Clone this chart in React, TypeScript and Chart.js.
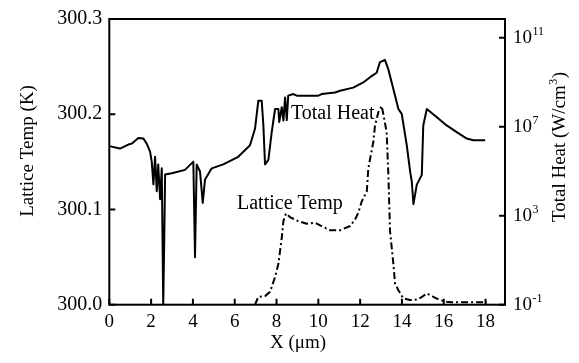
import React, { useEffect, useRef } from 'react';
import { Chart, registerables } from 'chart.js';

Chart.register(...registerables);

// Total Heat (W/cm^3), solid line, right log axis
const heatX = [0, 0.51, 0.91, 1.07, 1.39, 1.63, 1.79, 1.95, 2.03, 2.11, 2.19, 2.27, 2.34, 2.43, 2.51, 2.58, 2.63, 2.67, 2.99, 3.62, 4.02, 4.1, 4.18, 4.34, 4.47, 4.58, 4.9, 5.45, 6.17, 6.73, 6.97, 7.13, 7.29, 7.37, 7.45, 7.61, 7.77, 7.93, 8.09, 8.13, 8.25, 8.33, 8.41, 8.49, 8.56, 8.8, 8.97, 10.0, 10.16, 10.8, 11.04, 11.67, 12.15, 12.55, 12.79, 12.95, 13.19, 13.35, 13.51, 13.83, 13.99, 14.23, 14.39, 14.47, 14.55, 14.71, 14.95, 15.02, 15.19, 15.67, 16.14, 16.62, 17.1, 17.42, 17.98];
const heatY = [1.35e6, 1.05e6, 1.58e6, 1.74e6, 3.16e6, 2.95e6, 1.74e6, 7.6e5, 2.7e5, 2.57e4, 4.47e5, 1.26e4, 2.0e5, 5.5e3, 1.35e5, 0.1, 91, 7.1e4, 8.1e4, 1.15e5, 2.7e5, 13.5, 2.0e5, 9.8e4, 3.8e3, 4.27e4, 1.35e5, 2.04e5, 4.47e5, 1.48e6, 8.1e6, 1.48e8, 1.48e8, 1.2e7, 2.04e5, 3.24e5, 5.75e6, 6.3e7, 6.3e7, 1.62e7, 7.6e7, 1.9e7, 2.09e8, 2.0e7, 2.5e8, 2.95e8, 2.5e8, 2.5e8, 2.95e8, 3.47e8, 4.17e8, 5.75e8, 9.8e8, 1.9e9, 2.69e9, 8.1e9, 1.0e10, 3.8e9, 9.8e8, 6.3e7, 3.8e7, 1.48e6, 9.8e4, 3.47e4, 3.3e3, 2.5e4, 6.9e4, 1.15e7, 6.3e7, 2.69e7, 1.15e7, 5.75e6, 2.95e6, 2.5e6, 2.5e6];

// Lattice Temp (K), dash-dot line, left axis
const tempX = [6.97, 7.13, 7.45, 7.69, 7.93, 8.09, 8.25, 8.33, 8.45, 8.64, 9.04, 9.44, 9.84, 10.24, 10.56, 11.04, 11.52, 11.76, 11.91, 12.08, 12.32, 12.39, 12.63, 12.71, 12.87, 13.03, 13.11, 13.27, 13.35, 13.43, 13.59, 13.67, 13.83, 14.07, 14.39, 14.78, 15.19, 15.5, 15.82, 16.14, 16.38, 18.06];
const tempY = [300.0, 300.0083, 300.009, 300.0135, 300.029, 300.0429, 300.0705, 300.0878, 300.0958, 300.092, 300.0878, 300.085, 300.0861, 300.0816, 300.0782, 300.0782, 300.0826, 300.0896, 300.0964, 300.1086, 300.119, 300.143, 300.1708, 300.188, 300.202, 300.2088, 300.2001, 300.181, 300.1363, 300.0775, 300.0429, 300.0222, 300.0152, 300.0066, 300.0049, 300.0056, 300.0118, 300.0083, 300.0049, 300.0031, 300.0025, 300.0025];

const xTicks = [0, 2, 4, 6, 8, 10, 12, 14, 16, 18];
const tempTicks = [300.0, 300.1, 300.2, 300.3];
const heatTicks = [1e-1, 1e3, 1e7, 1e11];
const heatTickBase = ['10', '10', '10', '10'];
const heatTickExp = ['-1', '3', '7', '11'];

const xTitle = 'X (μm)';
const leftTitle = 'Lattice Temp (K)';
const rightTitleMain = 'Total Heat (W/cm';
const rightTitleSup = '3';
const rightTitleEnd = ')';
const heatLabel = 'Total Heat';
const tempLabel = 'Lattice Temp';

const FONT = '"Liberation Serif", "Times New Roman", serif';

export default function App() {
  const ref = useRef<HTMLCanvasElement | null>(null);

  useEffect(() => {
    const canvas = ref.current;
    if (!canvas) return;

    const overlay = {
      id: 'overlay',
      afterDraw(chart: any) {
        const ctx = chart.ctx as CanvasRenderingContext2D;
        const a = chart.chartArea;
        const sx = chart.scales.x;
        const sT = chart.scales.yT;
        const sH = chart.scales.yH;
        ctx.save();
        ctx.strokeStyle = '#000';
        ctx.fillStyle = '#000';
        ctx.lineWidth = 2;
        ctx.strokeRect(a.left, a.top, a.right - a.left, a.bottom - a.top);
        // inward ticks
        ctx.beginPath();
        xTicks.forEach((v) => {
          const p = sx.getPixelForValue(v);
          ctx.moveTo(p, a.bottom);
          ctx.lineTo(p, a.bottom - 6);
        });
        tempTicks.forEach((v) => {
          const p = sT.getPixelForValue(v);
          ctx.moveTo(a.left, p);
          ctx.lineTo(a.left + 6, p);
        });
        heatTicks.forEach((v) => {
          const p = sH.getPixelForValue(v);
          ctx.moveTo(a.right, p);
          ctx.lineTo(a.right - 6, p);
        });
        ctx.stroke();

        // right axis labels
        ctx.textBaseline = 'middle';
        ctx.textAlign = 'left';
        heatTicks.forEach((v, i) => {
          const p = sH.getPixelForValue(v);
          ctx.font = `19px ${FONT}`;
          const bx = a.right + 8;
          ctx.fillText(heatTickBase[i], bx, p);
          const w = ctx.measureText(heatTickBase[i]).width;
          ctx.font = `12px ${FONT}`;
          ctx.fillText(heatTickExp[i], bx + w + 0.5, p - 6);
        });

        // titles
        ctx.font = `19px ${FONT}`;
        ctx.textAlign = 'center';
        ctx.fillText(xTitle, 298, 343);

        ctx.save();
        ctx.translate(28, 151);
        ctx.rotate(-Math.PI / 2);
        ctx.fillText(leftTitle, 0, 0);
        ctx.restore();

        ctx.save();
        ctx.translate(560, 147);
        ctx.rotate(-Math.PI / 2);
        ctx.textAlign = 'left';
        ctx.font = `19px ${FONT}`;
        const w1 = ctx.measureText(rightTitleMain).width;
        const w3 = ctx.measureText(rightTitleEnd).width;
        ctx.font = `12px ${FONT}`;
        const w2 = ctx.measureText(rightTitleSup).width;
        const tot = w1 + w2 + w3 + 1;
        let xx = -tot / 2;
        ctx.font = `19px ${FONT}`;
        ctx.fillText(rightTitleMain, xx, 0);
        xx += w1 + 0.5;
        ctx.font = `12px ${FONT}`;
        ctx.fillText(rightTitleSup, xx, -6);
        xx += w2 + 0.5;
        ctx.font = `19px ${FONT}`;
        ctx.fillText(rightTitleEnd, xx, 0);
        ctx.restore();

        // in-plot labels
        ctx.font = `20px ${FONT}`;
        ctx.textAlign = 'left';
        ctx.textBaseline = 'alphabetic';
        ctx.fillText(heatLabel, sx.getPixelForValue(8.69), sT.getPixelForValue(300.195));
        ctx.fillText(tempLabel, sx.getPixelForValue(6.11), sT.getPixelForValue(300.101));
        ctx.restore();
      },
    };

    const chart = new Chart(canvas, {
      type: 'line',
      data: {
        datasets: [
          {
            label: heatLabel,
            data: heatX.map((x, i) => ({ x, y: heatY[i] })),
            yAxisID: 'yH',
            borderColor: '#000',
            borderWidth: 2,
            pointRadius: 0,
            tension: 0,
            fill: false,
            borderJoinStyle: 'round',
          },
          {
            label: tempLabel,
            data: tempX.map((x, i) => ({ x, y: tempY[i] })),
            yAxisID: 'yT',
            borderColor: '#000',
            borderWidth: 2,
            borderDash: [7, 3, 2, 3],
            pointRadius: 0,
            tension: 0,
            fill: false,
            borderJoinStyle: 'round',
          },
        ],
      },
      options: {
        responsive: false,
        animation: false,
        devicePixelRatio: 1,
        layout: { padding: { top: 15.5, left: 0, right: 0, bottom: 0 } },
        plugins: { legend: { display: false }, tooltip: { enabled: false } },
        scales: {
          x: {
            type: 'linear',
            min: 0,
            max: 18.93,
            grid: { display: false, drawTicks: false },
            border: { display: false },
            ticks: {
              color: '#000',
              font: { family: FONT, size: 19 },
              padding: 6,
              maxRotation: 0,
              autoSkip: false,
            },
            afterBuildTicks: (s: any) => {
              s.ticks = xTicks.map((v) => ({ value: v }));
            },
            afterFit: (s: any) => {
              s.height = 58.3;
            },
          },
          yT: {
            type: 'linear',
            position: 'left',
            min: 300,
            max: 300.3,
            grid: { display: false, drawTicks: false },
            border: { display: false },
            ticks: {
              color: '#000',
              font: { family: FONT, size: 20 },
              padding: 7,
              callback: (v: any) => Number(v).toFixed(1),
            },
            afterBuildTicks: (s: any) => {
              s.ticks = tempTicks.map((v) => ({ value: v }));
            },
            afterFit: (s: any) => {
              s.width = 109.3;
            },
          },
          yH: {
            type: 'logarithmic',
            position: 'right',
            min: 0.1,
            max: 7e11,
            grid: { display: false, drawTicks: false },
            border: { display: false },
            ticks: { display: false },
            afterFit: (s: any) => {
              s.width = 74;
            },
          },
        },
      },
      plugins: [overlay],
    } as any);

    return () => chart.destroy();
  }, []);

  return (
    <div style={{ position: 'fixed', left: 0, top: 0, width: 579, height: 363, background: '#fff' }}>
      <canvas ref={ref} width={579} height={363} style={{ display: 'block', width: 579, height: 363 }} />
    </div>
  );
}
